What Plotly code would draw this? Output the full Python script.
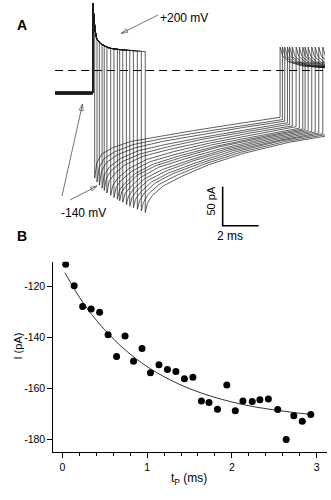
import plotly.graph_objects as go

# ---------------- Panel A data (time in ms, current in pA) ----------------
tp_ms = [0.11, 0.24, 0.37, 0.52, 0.64, 0.79, 1.00, 1.18, 1.37, 1.50, 1.67,
         1.87, 2.06, 2.26, 2.48, 2.70, 2.92]
plateau_end_pA = [55, 40, 36, 33, 31.5, 30, 28.5, 27.8, 27.2, 26.8, 26.4,
                  26.0, 25.7, 25.4, 25.0, 24.6, 24.2]
pulse_t_ms = [0.05, 0.13, 0.22, 0.41, 0.70, 0.96, 1.50, 2.24, 2.94]
pulse_I_pA = [68, 52, 41, 35, 31, 28.5, 26.8, 25.4, 24.1]
pulse_peak_pA = 86
holding_I_pA = -28.8
pre_start_ms = -2.09
record_end_ms = 12.9

tail_dt_ms = [0, 0.12, 0.4, 1.0, 2.0, 3.5, 5.5, 8.0, 10.3]
tail_I_pA = [
    [-138, -118, -107, -99, -91, -85, -77, -68, -60],
    [-143, -124, -113, -104, -95, -88, -80, -71, -63],
    [-147, -129, -118, -108, -99, -91, -83, -73, -65],
    [-151, -134, -124, -113, -103, -95, -86, -76, -67],
    [-154, -138, -128, -117, -107, -98, -88, -78, -69],
    [-157, -142, -133, -121, -110, -101, -91, -80, -71],
    [-160, -147, -138, -126, -114, -104, -93, -82, -72],
    [-163, -150, -141, -129, -117, -107, -95, -84, -74],
    [-165, -153, -145, -132, -120, -109, -97, -85, -75],
    [-167, -155, -147, -134, -122, -111, -98, -86, -76],
    [-169, -158, -150, -137, -124, -113, -100, -87, -77],
    [-172, -161, -152, -139, -127, -115, -101, -88, -78],
    [-174, -163, -154, -141, -129, -116, -102, -89, -79],
    [-176, -165, -156, -143, -131, -118, -103, -90, -80],
    [-178, -167, -157, -144, -132, -119, -104, -90, -81],
    [-180, -169, -158, -146, -134, -120, -105, -91, -82],
    [-182, -170, -160, -148, -136, -121, -106, -92, -83],
]
final_dt_ms = [0, 0.15, 0.5, 1.2, 2.5, 4.0]
final_I_pA = [30, 18, 11, 6, 3.5, 3]

scalebar_origin = (7.22, -199)   # ms, pA
scalebar_len = (2, 50)           # 2 ms, 50 pA

# ---------------- Panel B data ----------------
tp_B_ms = [0.04, 0.14, 0.24, 0.34, 0.44, 0.54, 0.64, 0.74, 0.84, 0.94,
           1.04, 1.14, 1.24, 1.34, 1.44, 1.54, 1.64, 1.73, 1.83, 1.94,
           2.04, 2.13, 2.24, 2.33, 2.43, 2.54, 2.64, 2.73, 2.83, 2.93]
I_B_pA = [-111.5, -119.9, -128.0, -129.0, -130.3, -139.0, -147.5, -139.5,
          -149.4, -144.4, -153.9, -150.8, -152.6, -153.4, -156.2, -155.6,
          -164.9, -165.5, -168.1, -158.7, -168.7, -164.9, -165.1, -164.4,
          -164.1, -168.2, -180.0, -170.7, -172.8, -170.2]
fit_t_ms = [0.03, 0.25, 0.5, 0.75, 1.0, 1.25, 1.5, 1.75, 2.0, 2.25, 2.5,
            2.75, 2.96]
fit_I_pA = [-114.8, -126.8, -137.1, -145.2, -151.5, -156.3, -160.1, -163.0,
            -165.3, -167.1, -168.4, -169.5, -170.3]
yticks_B = [-120, -140, -160, -180]
xticks_B = [0, 1, 2, 3]

W, H = 331, 500
FONT = "Liberation Sans, Arial, Helvetica, sans-serif"
TRACE_COLOR = "#1a1a1a"


def px(x):
    return x / W


def py(y):
    return 1 - y / H


fig = go.Figure()

# baseline band (holding potential)
fig.add_trace(go.Scatter(x=[pre_start_ms, 0], y=[holding_I_pA, holding_I_pA],
                         mode="lines", line=dict(color="#333333", width=4),
                         xaxis="x", yaxis="y", hoverinfo="skip"))

# zero-current dashed line
fig.add_trace(go.Scatter(x=[pre_start_ms, record_end_ms], y=[0, 0], mode="lines",
                         line=dict(color="black", width=1, dash="8px,5px"),
                         xaxis="x", yaxis="y", hoverinfo="skip"))

for k, tp in enumerate(tp_ms):
    xs = [pre_start_ms, 0, 0]
    ys = [holding_I_pA, holding_I_pA, pulse_peak_pA]
    for t, v in zip(pulse_t_ms, pulse_I_pA):
        if t < tp:
            xs.append(t)
            ys.append(v)
    xs.append(tp)
    ys.append(plateau_end_pA[k])
    for dt, v in zip(tail_dt_ms, tail_I_pA[k]):
        xs.append(tp + dt)
        ys.append(v)
    t_step = tp + tail_dt_ms[-1]
    for dt, v in zip(final_dt_ms, final_I_pA):
        xs.append(t_step + dt)
        ys.append(v)
    fig.add_trace(go.Scatter(x=xs, y=ys, mode="lines",
                             line=dict(color=TRACE_COLOR, width=0.7),
                             xaxis="x", yaxis="y", hoverinfo="skip"))

# scale bar
sx0, sy0 = scalebar_origin
fig.add_trace(go.Scatter(x=[sx0, sx0, sx0 + scalebar_len[0]],
                         y=[sy0 + scalebar_len[1], sy0, sy0],
                         mode="lines", line=dict(color="black", width=1.6),
                         xaxis="x", yaxis="y", hoverinfo="skip"))

# panel B
fig.add_trace(go.Scatter(x=fit_t_ms, y=fit_I_pA, mode="lines", line_shape="spline",
                         line=dict(color="black", width=0.8),
                         xaxis="x2", yaxis="y2", hoverinfo="skip"))
fig.add_trace(go.Scatter(x=tp_B_ms, y=I_B_pA, mode="markers",
                         marker=dict(color="black", size=7, line=dict(width=0)),
                         xaxis="x2", yaxis="y2", hoverinfo="skip"))

# pointer arrows on a full-figure pixel overlay (tail -> head)
arrows_px = [((158, 15), (121, 33.5)), ((62, 196), (82.5, 104)), ((70, 200), (97, 186))]
for (tx, ty), (hx, hy) in arrows_px:
    fig.add_trace(go.Scatter(x=[tx, hx], y=[ty, hy], mode="lines+markers",
                             line=dict(color="#333333", width=0.7),
                             marker=dict(symbol=["circle", "arrow-open"], size=[0, 7],
                                         angleref="previous", color="#333333",
                                         line=dict(width=0.8, color="#333333")),
                             xaxis="x3", yaxis="y3", hoverinfo="skip"))

# axis geometry
ms_px = 18.0
pA_px = 0.78
xA0 = -92.7 / ms_px
xA1 = (325 - 92.7) / ms_px
yA_top = 70.5 / pA_px
yA_bot = (70.5 - 250) / pA_px

bx_per = 84.8
bx0 = (53.3 - 62.3) / bx_per
bx1 = (326.7 - 62.3) / bx_per
by_per = 2.56
by_top = -120 + (286 - 261.7) / by_per
by_bot = -120 - (452.3 - 286) / by_per

fig.update_layout(
    width=W, height=H, margin=dict(l=0, r=0, t=0, b=0),
    paper_bgcolor="white", plot_bgcolor="rgba(0,0,0,0)", showlegend=False,
    font=dict(family=FONT, color="black", size=11),
    xaxis=dict(domain=[0, px(325)], range=[xA0, xA1], visible=False, fixedrange=True),
    yaxis=dict(domain=[py(250), 1], range=[yA_bot, yA_top], visible=False, fixedrange=True),
    xaxis3=dict(domain=[0, 1], range=[0, W], visible=False, fixedrange=True, anchor="y3"),
    yaxis3=dict(domain=[0, 1], range=[H, 0], visible=False, fixedrange=True, anchor="x3"),
    xaxis2=dict(domain=[px(53.3), px(326.7)], range=[bx0, bx1], anchor="y2",
                showline=True, linecolor="black", linewidth=1, showgrid=False,
                zeroline=False, ticks="outside", ticklen=5, tickwidth=1,
                tickcolor="black", tickvals=xticks_B,
                ticktext=[str(v) for v in xticks_B],
                tickfont=dict(size=10.5, family=FONT),
                minor=dict(dtick=0.2, tick0=0, ticks="outside", ticklen=3,
                           tickcolor="black", tickwidth=1, showgrid=False)),
    yaxis2=dict(domain=[py(452.3), py(261.7)], range=[by_bot, by_top], anchor="x2",
                showline=True, linecolor="black", linewidth=1, showgrid=False,
                zeroline=False, ticks="outside", ticklen=5, tickwidth=1,
                tickcolor="black", tickvals=yticks_B,
                ticktext=["-" + str(abs(v)) for v in yticks_B],
                tickfont=dict(size=10.5, family=FONT)),
)

ann = []
ann.append(dict(x=px(15), y=py(15), xref="paper", yref="paper", text="<b>A</b>",
                showarrow=False, font=dict(size=14, family=FONT)))
ann.append(dict(x=px(15), y=py(236), xref="paper", yref="paper", text="<b>B</b>",
                showarrow=False, font=dict(size=14, family=FONT)))
ann.append(dict(x=px(184), y=py(8.5), xref="paper", yref="paper", text="+200 mV",
                showarrow=False, font=dict(size=12, family=FONT)))
ann.append(dict(x=px(58.5), y=py(212.5), xref="paper", yref="paper", text="-140 mV",
                showarrow=False, font=dict(size=12, family=FONT)))
ann.append(dict(x=px(210), y=py(201.5), xref="paper", yref="paper", text="50 pA",
                textangle=-90, showarrow=False, font=dict(size=11, family=FONT)))
ann.append(dict(x=px(245), y=py(236), xref="paper", yref="paper", text="2 ms",
                showarrow=False, font=dict(size=12, family=FONT)))
ann.append(dict(x=px(9), y=py(362), xref="paper", yref="paper", text="I (pA)",
                textangle=-90, showarrow=False, font=dict(size=11, family=FONT)))
ann.append(dict(x=px(189), y=py(489), xref="paper", yref="paper",
                text="t<sub>P</sub> (ms)", showarrow=False,
                font=dict(size=12, family=FONT)))

fig.update_layout(annotations=ann)

fig.write_html("out.html")
